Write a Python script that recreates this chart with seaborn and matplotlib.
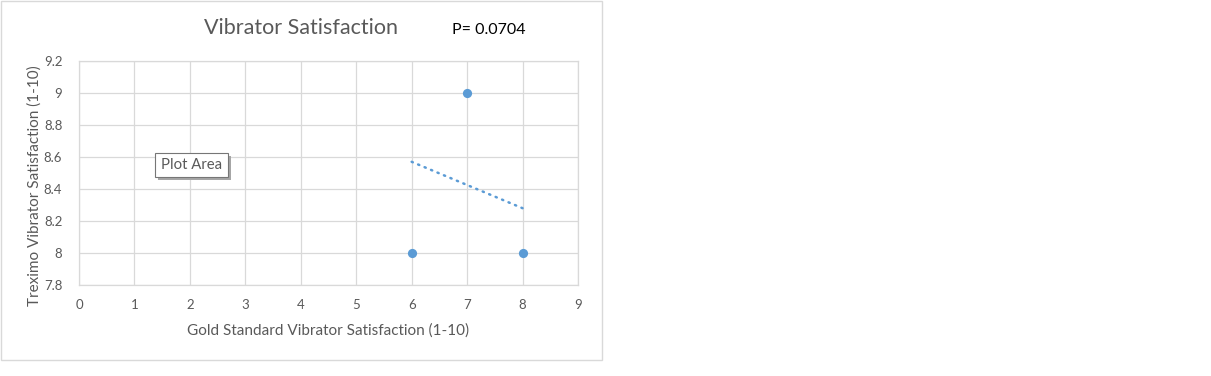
import matplotlib
matplotlib.use("Agg")
import matplotlib.pyplot as plt
import seaborn as sns
import pandas as pd
from matplotlib.patches import Rectangle

# Data
gold_x = [6, 7, 8]
treximo_y = [8, 9, 8]
trend_x = [6, 8]
trend_y = [8.57, 8.28]
x_ticks = [0, 1, 2, 3, 4, 5, 6, 7, 8, 9]
y_ticks = [7.8, 8.0, 8.2, 8.4, 8.6, 8.8, 9.0, 9.2]
y_tick_labels = ["7.8", "8", "8.2", "8.4", "8.6", "8.8", "9", "9.2"]

sns.set_theme(style="white")
plt.rcParams["font.family"] = ["Lato", "DejaVu Sans"]

TXT = "#595959"
GRID = "#D9D9D9"
BLUE = "#5B9BD5"

fig = plt.figure(figsize=(12.11, 3.76), dpi=100)
W, H = 1211, 376


def fx(px):
    return px / W


def fy(py):
    return 1 - py / H


# chart border
fig.patches.append(Rectangle((fx(1), fy(360)), 601 / W, 359 / H, transform=fig.transFigure,
                             facecolor="none", edgecolor="#D9D9D9", linewidth=1.0, zorder=-5))

ax = fig.add_axes([fx(79), fy(285), 499 / W, 224 / H])
ax.set_facecolor("white")

pts = pd.DataFrame({"x": gold_x, "y": treximo_y})
trend = pd.DataFrame({"x": trend_x, "y": trend_y})

sns.lineplot(data=trend, x="x", y="y", ax=ax, color=BLUE, linewidth=1.8,
             linestyle=(0, (0.5, 2.3)), dash_capstyle="round", zorder=3)
sns.scatterplot(data=pts, x="x", y="y", ax=ax, color=BLUE, s=44, edgecolor=BLUE, linewidth=0, zorder=4)

ax.set_xlim(0, 9)
ax.set_ylim(7.8, 9.2)
ax.set_xticks(x_ticks)
ax.set_xticklabels([str(t) for t in x_ticks])
ax.set_yticks(y_ticks)
ax.set_yticklabels(y_tick_labels)
ax.grid(True, color=GRID, linewidth=0.9)
ax.set_axisbelow(True)
for s in ax.spines.values():
    s.set_color(GRID)
    s.set_linewidth(0.9)
ax.tick_params(axis="both", length=0, labelsize=9.5, labelcolor=TXT)
ax.tick_params(axis="x", pad=10)
ax.tick_params(axis="y", pad=12)

ax.set_xlabel("Gold Standard Vibrator Satisfaction (1-10)", fontsize=11, color=TXT, labelpad=9)
ax.set_ylabel("Treximo Vibrator Satisfaction (1-10)", fontsize=11, color=TXT, va="center")
ax.yaxis.set_label_coords((35 - 79) / 499, (285 - 186) / 224)

fig.text(fx(301), fy(28), "Vibrator Satisfaction", fontsize=15.5, color=TXT, ha="center", va="center")
fig.text(fx(452), fy(30), "P= 0.0704", fontsize=11.5, color="black", ha="left", va="center")

# "Plot Area" tooltip with shadow
fig.patches.append(Rectangle((fx(158), fy(180)), 73 / W, 24 / H, transform=fig.transFigure,
                             facecolor="#A6A6A6", edgecolor="none", zorder=5))
fig.patches.append(Rectangle((fx(155), fy(177)), 73 / W, 24 / H, transform=fig.transFigure,
                             facecolor="white", edgecolor="#767676", linewidth=0.8, zorder=6))
fig.text(fx(191.5), fy(165), "Plot Area", fontsize=10.7, color=TXT, ha="center", va="center", zorder=7)

fig.savefig("out.png", dpi=100, facecolor="white")
